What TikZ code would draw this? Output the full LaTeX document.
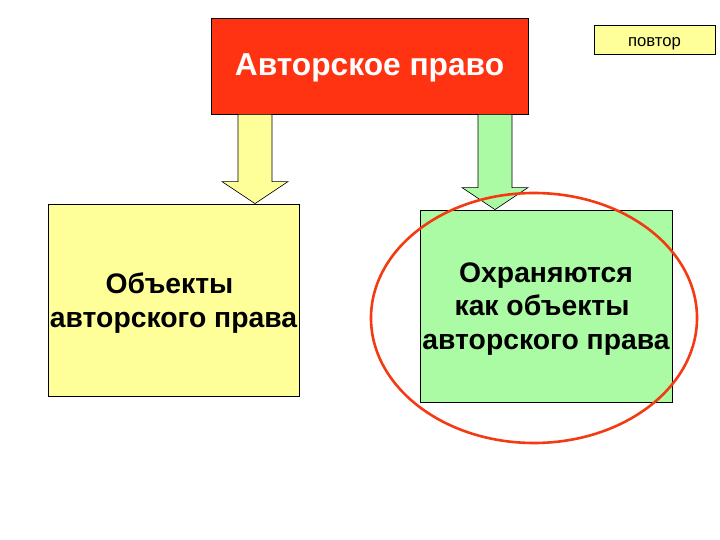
\documentclass[tikz,border=0pt]{standalone}
\usepackage{fontspec}
\setmainfont{Liberation Sans}
\usetikzlibrary{calc,positioning}
\definecolor{headred}{HTML}{FF3311}
\definecolor{paleyellow}{HTML}{FFFF99}
\definecolor{palegreen}{HTML}{AAFBA4}
\definecolor{ringred}{HTML}{F33A12}
\tikzset{box/.style={draw=black, line width=.8pt, inner sep=0pt, align=center}, boxtxt/.style={font=\fontsize{28.3}{33.5}\selectfont\bfseries, text depth=0pt}, blockarr/.style={draw=black, line width=.6pt, line join=miter}, ring/.style={draw=ringred, line width=2.6pt}}
\begin{document}
\begin{tikzpicture}[x=1pt,y=-1pt]
\useasboundingbox (0,0) rectangle (720,540);
\node[box, fill=headred, minimum width=317pt, minimum height=96pt, text=white, text height=20pt, text depth=0pt, font=\fontsize{31.7}{36}\selectfont\bfseries] (title) at (369.5,66) {Авторское право};
\node[box, fill=paleyellow, minimum width=121pt, minimum height=29pt, text height=15pt, text depth=0pt, font=\fontsize{16.7}{19}\selectfont] (note) at (654.5,39.5) {повтор};
\node[box, boxtxt, fill=paleyellow, minimum width=251pt, minimum height=192pt] (lbox) at (173.5,300) {Объекты\kern.28em\\авторского права};
\node[box, boxtxt, fill=palegreen, minimum width=252pt, minimum height=192pt] (rbox) at (546,306) {Охраняются\\как объекты\kern.28em\\авторского права};
% block arrows from the title down to the boxes
\coordinate (ltip) at (lbox.north -| 255,0); \coordinate (rtip) at (rbox.north -| 495,0);
\draw[blockarr, fill=paleyellow] ($(title.south -| ltip)+(-17,0)$) -- ++(34,0) -- ($(ltip)+(17,-22)$) -- ++(16,0) -- (ltip) -- ++(-33,-22) -- ++(16,0) -- cycle;
\draw[blockarr, fill=palegreen] ($(title.south -| rtip)+(-17,0)$) -- ++(34,0) -- ($(rtip)+(17,-22)$) -- ++(16,0) -- (rtip) -- ++(-33,-22) -- ++(16,0) -- cycle;
\draw[ring] (534,318) ellipse [x radius=163pt, y radius=125pt];
\end{tikzpicture}
\end{document}
